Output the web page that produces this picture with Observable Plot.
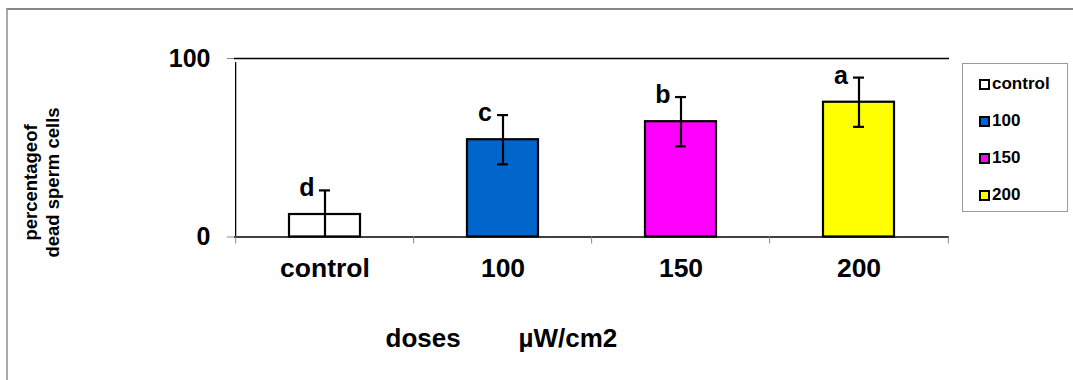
<!DOCTYPE html>
<html>
<head>
<meta charset="utf-8">
<script src="https://cdn.jsdelivr.net/npm/d3@7"></script>
<script src="https://cdn.jsdelivr.net/npm/@observablehq/plot@0.6"></script>
<style>
  html, body { margin: 0; padding: 0; background: #fff; }
  #wrap { position: relative; width: 1073px; height: 380px; overflow: hidden; font-family: "Liberation Sans", Arial, sans-serif; }
  #border { position: absolute; left: 6px; top: 8px; right: -4px; bottom: -4px; border-left: 2px solid #aaa; border-top: 2px solid #888; pointer-events: none; }
  #legend { position: absolute; left: 962px; top: 63px; width: 106px; height: 149px; border: 1px solid #999; box-sizing: border-box; background: #fff; }
  .item { position: absolute; left: 16px; display: flex; align-items: center; font-weight: bold; font-size: 17px; color: #000; line-height: 20px; }
  .sw { width: 7px; height: 7px; border: 2px solid #000; margin-right: 2px; }
</style>
</head>
<body>
<div id="wrap">
  <div id="chart"></div>
  <div id="border"></div>
  <div id="legend"></div>
</div>
<script>
// Data
const categories = ["control", "100", "150", "200"];
const values = [12.6, 54.5, 64.6, 75.5];
const errors = [13.5, 13.8, 13.8, 13.8];
const letters = ["d", "c", "b", "a"];
const colors = ["#ffffff", "#0066cc", "#ff00ff", "#ffff00"];
const yTicks = [0, 100];
const xTitle = "doses        \u00b5W/cm2";
const yTitle = ["percentageof", "dead sperm cells"];

const data = categories.map((c, i) => ({
  cat: c, v: values[i], e: errors[i], letter: letters[i], color: colors[i],
  lo: Math.max(0, values[i] - errors[i]), hi: values[i] + errors[i]
}));

const W = 1073, H = 380;
const mL = 234, mR = W - 949, mT = 58, mB = H - 236.5;
const step = (W - mL - mR) / categories.length;
const font = "Liberation Sans, Arial, sans-serif";

const chart = Plot.plot({
  width: W, height: H,
  marginLeft: mL, marginRight: mR, marginTop: mT, marginBottom: mB,
  style: { fontFamily: font, background: "transparent", overflow: "visible" },
  x: { domain: categories, paddingInner: 0.6, paddingOuter: 0.3, axis: null },
  y: { domain: [0, 100], axis: null },
  color: { domain: categories, range: colors },
  marks: [
    // top frame line
    Plot.ruleY([100], { stroke: "#000", strokeWidth: 1.3 }),
    // left axis line
    Plot.ruleX([categories[0]], { y1: 0, y2: 100, dx: -step / 2, stroke: "#000", strokeWidth: 1.3, insetBottom: -4 }),
    // y axis ticks and labels
    Plot.axisY(yTicks, { ticks: yTicks, tickSize: 7, tickPadding: 17, stroke: "#888", fontSize: 25, fontWeight: "bold", fill: "#000", label: null }),
    // bars
    Plot.barY(data, { x: "cat", y: "v", fill: "color", stroke: "#000", strokeWidth: 2.2 }),
    // baseline (drawn after bars)
    Plot.ruleY([0], { stroke: "#000", strokeWidth: 1.3 }),
    // x ticks at band boundaries
    Plot.ruleX(categories, { x: d => d, y1: 0, y2: 0, dx: -step / 2, stroke: "#888", insetBottom: -7 }),
    Plot.ruleX([categories[categories.length - 1]], { y1: 0, y2: 0, dx: step / 2, stroke: "#888", insetBottom: -7 }),
    // error bars
    Plot.ruleX(data, { x: "cat", y1: "lo", y2: "hi", stroke: "#000", strokeWidth: 2.2 }),
    Plot.tickY(data, { x: "cat", y: "hi", stroke: "#000", strokeWidth: 2.2, insetLeft: 30, insetRight: 30 }),
    Plot.tickY(data.filter(d => d.v - d.e > 0), { x: "cat", y: "lo", stroke: "#000", strokeWidth: 2.2, insetLeft: 30, insetRight: 30 }),
    // significance letters
    Plot.text(data, { x: "cat", y: "hi", text: "letter", dx: -18, dy: -2, fontSize: 25, fontWeight: "bold", fill: "#000" }),
    // category labels
    Plot.text(data, { x: "cat", y: 0, text: "cat", dy: 32, fontSize: 26.5, fontWeight: "bold", fill: "#000" }),
    // x title
    Plot.text([xTitle], { frameAnchor: "bottom-left", dx: 385 - mL, dy: 102, text: d => d, textAnchor: "start", fontSize: 26, fontWeight: "bold", fill: "#000", lineAnchor: "middle" }),
    // y title
    Plot.text([yTitle.join("\n")], { frameAnchor: "left", textAnchor: "middle", lineAnchor: "middle", dx: -(mL - 40), dy: 182 - (mT + (236.5 - mT) / 2), text: d => d, rotate: -90, fontSize: 18.5, fontWeight: "bold", fill: "#000", lineHeight: 1.2 })
  ]
});
document.getElementById("chart").appendChild(chart);

// Legend (HTML)
const legend = document.getElementById("legend");
const itemY = [20, 57, 94, 131];
categories.forEach((c, i) => {
  const it = document.createElement("div");
  it.className = "item";
  it.style.top = (itemY[i] - 10) + "px";
  const sw = document.createElement("div");
  sw.className = "sw";
  sw.style.background = colors[i];
  const tx = document.createElement("span");
  tx.textContent = c;
  it.appendChild(sw); it.appendChild(tx);
  legend.appendChild(it);
});
</script>
</body>
</html>
